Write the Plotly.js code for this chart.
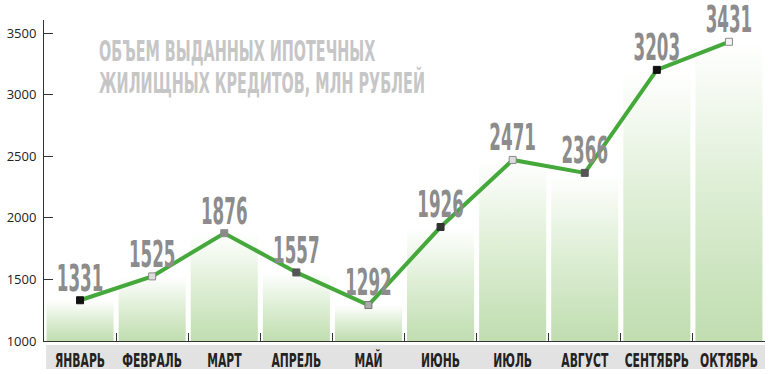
<!DOCTYPE html>
<html>
<head>
<meta charset="utf-8">
<script src="https://cdn.plot.ly/plotly-3.0.1.min.js"></script>
<style>
  html, body { margin: 0; padding: 0; background: #fff; }
  #chart { width: 770px; height: 374px; }
  #chart .textpoint text, #chart .xtick text, #chart .annotation-text { font-stretch: condensed; }
  #chart .xtick { transform-box: fill-box; transform-origin: center center; transform: scale(0.8, 1.35); }
  #chart .annotation-text { transform-box: fill-box; transform-origin: left center; transform: scale(0.64, 1.15); }
</style>
</head>
<body>
<div id="chart"></div>
<script>
// ---- data ----
const months = ['ЯНВАРЬ', 'ФЕВРАЛЬ', 'МАРТ', 'АПРЕЛЬ', 'МАЙ', 'ИЮНЬ', 'ИЮЛЬ', 'АВГУСТ', 'СЕНТЯБРЬ', 'ОКТЯБРЬ'];
const values = [1331, 1525, 1876, 1557, 1292, 1926, 2471, 2366, 3203, 3431];
const yTicks = [1000, 1500, 2000, 2500, 3000, 3500];
const titleLines = ['ОБЪЕМ ВЫДАННЫХ ИПОТЕЧНЫХ', 'ЖИЛИЩНЫХ КРЕДИТОВ, МЛН РУБЛЕЙ'];

// ---- styles ----
const markerFill = ['#111111', '#dddddd', '#8a8a8a', '#555555', '#aaaaaa', '#333333', '#dddddd', '#555555', '#111111', '#f4f4f4'];
const markerEdge = ['#111111', '#8a8a8a', '#8a8a8a', '#555555', '#777777', '#333333', '#8a8a8a', '#555555', '#111111', '#8a8a8a'];
const narrow = '"Liberation Sans Narrow", "DejaVu Sans Condensed", "DejaVu Sans", sans-serif';
const yBase = yTicks[0];
const barHalf = 0.465;

const idx = months.map(function (m, i) { return i; });
const bounds = [-0.5].concat(idx.map(function (i) { return i + 0.5; }));

const traces = [];
values.forEach(function (v, i) {
  traces.push({
    type: 'scatter',
    xaxis: 'x', yaxis: 'y',
    x: [i - barHalf, i - barHalf, i + barHalf, i + barHalf, i - barHalf],
    y: [yBase, v, v, yBase, yBase],
    mode: 'lines',
    fill: 'toself',
    line: { width: 0, color: 'rgba(0,0,0,0)' },
    fillcolor: '#d4e9c9',
    fillgradient: {
      type: 'vertical',
      start: yBase,
      stop: v,
      colorscale: [[0, '#c0ddb0'], [0.5, '#ddeed4'], [1, '#ffffff']]
    },
    hoverinfo: 'skip',
    showlegend: false
  });
});

traces.push({
  type: 'scatter',
  xaxis: 'x', yaxis: 'y',
  x: idx,
  y: values,
  mode: 'lines+markers+text',
  text: values.map(String),
  textposition: 'top center',
  textfont: { family: narrow, size: 30, color: '#8c8c8c', weight: 'bold' },
  line: { color: '#44a83a', width: 4 },
  marker: { symbol: 'square', size: 7, color: markerFill, line: { color: markerEdge, width: 1 } },
  cliponaxis: false,
  showlegend: false
});

// invisible helper trace so the boundary-tick axis is drawn
traces.push({
  type: 'scatter', xaxis: 'x2', yaxis: 'y',
  x: [bounds[0], bounds[bounds.length - 1]], y: [yBase, yBase],
  mode: 'markers', marker: { size: 1, opacity: 0 },
  hoverinfo: 'skip', showlegend: false
});

const layout = {
  width: 770, height: 374,
  margin: { l: 44, r: 5, t: 20, b: 33 },
  paper_bgcolor: '#ffffff',
  plot_bgcolor: '#ffffff',
  showlegend: false,
  xaxis: {
    range: [-0.5, 9.5],
    tickvals: idx, ticktext: months, tickangle: 0,
    ticks: '',
    showline: false, showgrid: false, zeroline: false,
    ticklabelstandoff: 8,
    tickfont: { family: narrow, size: 15, color: '#222', weight: 'bold' },
    fixedrange: true
  },
  xaxis2: {
    overlaying: 'x', anchor: 'y', side: 'bottom',
    range: [-0.5, 9.5],
    tickvals: bounds, ticktext: bounds.map(function () { return ''; }),
    ticks: 'inside', ticklen: 8, tickcolor: '#333', tickwidth: 1,
    showline: true, linecolor: '#333', linewidth: 1,
    showgrid: false, zeroline: false, showticklabels: false,
    fixedrange: true
  },
  yaxis: {
    range: [1000, 3608],
    tickvals: yTicks,
    ticktext: yTicks.map(String),
    ticks: 'inside', ticklen: 9, tickcolor: '#333', tickwidth: 1,
    showline: true, linecolor: '#333', linewidth: 1,
    showgrid: false, zeroline: false,
    ticklabelstandoff: 4,
    tickfont: { family: '"Open Sans", sans-serif', size: 13, color: '#222' },
    fixedrange: true
  },
  shapes: [{
    type: 'rect', xref: 'paper', yref: 'paper',
    x0: 0.003, x1: 1, y0: -0.0125, y1: -0.087,
    fillcolor: '#e2e2e2', line: { width: 0 }, layer: 'below'
  }],
  annotations: titleLines.map(function (t, k) {
    return {
      xref: 'paper', yref: 'paper',
      x: 0.0735, y: 0.9034 - k * 0.0997, xanchor: 'left', yanchor: 'middle',
      align: 'left', showarrow: false,
      text: t,
      font: { family: narrow, size: 25, color: '#c6c6c6', weight: 'bold' }
    };
  })
};

// squeeze the value labels into a tall, condensed face (scaled about their bottom centre)
function condenseLabels() {
  document.querySelectorAll('#chart .textpoint text').forEach(function (el) {
    const b = el.getBBox();
    const cx = b.x + b.width / 2, cy = b.y + b.height;
    const prev = el.getAttribute('transform') || '';
    el.setAttribute('transform', prev + ' translate(0,5) translate(' + cx + ',' + cy + ') scale(0.62,1.25) translate(' + (-cx) + ',' + (-cy) + ')');
  });
}

Plotly.newPlot('chart', traces, layout, { displayModeBar: false, staticPlot: true }).then(condenseLabels);
</script>
</body>
</html>
